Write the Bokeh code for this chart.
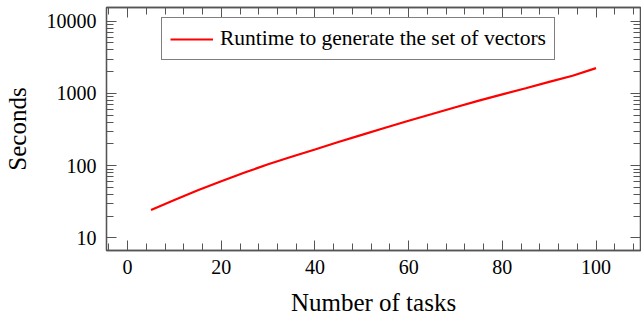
from bokeh.plotting import figure
from bokeh.models import (Range1d, FixedTicker, LinearAxis, LogAxis, Legend, LegendItem,
                          PrintfTickFormatter, CustomJSTickFormatter)
from bokeh.embed import file_html
from bokeh.resources import INLINE

# ---- data ----
tasks = [5, 10, 15, 20, 25, 30, 35, 40, 45, 50, 55, 60, 65, 70, 75, 80, 85, 90, 95, 100]
runtime = [24.4, 33.5, 45.7, 61, 80.4, 104.7, 133, 168, 213, 267, 336, 420, 520, 645, 795, 970,
           1183, 1445, 1762, 2245]
series_label = "Runtime to generate the set of vectors"
x_major = [0, 20, 40, 60, 80, 100]
x_minor = [-4, 4, 8, 12, 16, 24, 28, 32, 36, 44, 48, 52, 56, 64, 68, 72, 76, 84, 88, 92, 96, 104, 108]
y_major = [10, 100, 1000, 10000]
y_minor = [m * d for d in (10, 100, 1000) for m in range(2, 10)]

FONT = "Liberation Serif"
AX = "#555555"

p = figure(width=641, height=318, y_axis_type="log", output_backend="svg",
           toolbar_location=None, x_range=Range1d(-4.5, 109.5), y_range=Range1d(6.7, 15500),
           min_border_left=105, min_border_right=1, min_border_top=7, min_border_bottom=68)
p.background_fill_color = "white"
p.border_fill_color = "white"
p.outline_line_color = AX
p.outline_line_width = 1.3
p.xgrid.visible = False
p.ygrid.visible = False

r = p.line(tasks, runtime, line_color="#ff0000", line_width=2.2)

def style(ax, labels=True):
    ax.axis_line_color = AX
    ax.axis_line_width = 1.3
    ax.major_tick_line_color = AX
    ax.minor_tick_line_color = AX
    ax.major_tick_in = 10
    ax.major_tick_out = 0
    ax.minor_tick_in = 7
    ax.minor_tick_out = 0
    ax.major_label_text_font = FONT
    ax.major_label_text_font_size = "20px"
    ax.major_label_text_color = "black"
    ax.axis_label_text_font = FONT
    ax.axis_label_text_font_style = "normal"
    ax.axis_label_text_font_size = "25px"
    ax.axis_label_text_color = "black"
    if not labels:
        ax.formatter = CustomJSTickFormatter(code="return ''")
        ax.major_label_standoff = 0

xt = FixedTicker(ticks=x_major, minor_ticks=x_minor)
yt = FixedTicker(ticks=y_major, minor_ticks=y_minor)

xa = p.xaxis[0]
xa.ticker = xt
style(xa)
xa.axis_label = "Number of tasks"
xa.major_label_standoff = 9
xa.axis_label_standoff = 12

ya = p.yaxis[0]
ya.ticker = yt
ya.formatter = PrintfTickFormatter(format="%d")
style(ya)
ya.axis_label = "Seconds"
ya.major_label_standoff = 10
ya.axis_label_standoff = 13

top = LinearAxis(ticker=FixedTicker(ticks=x_major, minor_ticks=x_minor))
style(top, labels=False)
p.add_layout(top, "above")

right = LogAxis(ticker=FixedTicker(ticks=y_major, minor_ticks=y_minor))
style(right, labels=False)
p.add_layout(right, "right")

legend = Legend(items=[LegendItem(label=series_label, renderers=[r])],
                location=(55, 190))
legend.border_line_color = "black"
legend.border_line_width = 1
legend.label_text_font = FONT
legend.label_text_font_size = "21.5px"
legend.label_text_color = "black"
legend.glyph_width = 43
legend.label_standoff = 7
legend.padding = 8
legend.margin = 0
legend.background_fill_alpha = 1
p.add_layout(legend, "center")

open("out.html", "w").write(file_html(p, INLINE))
